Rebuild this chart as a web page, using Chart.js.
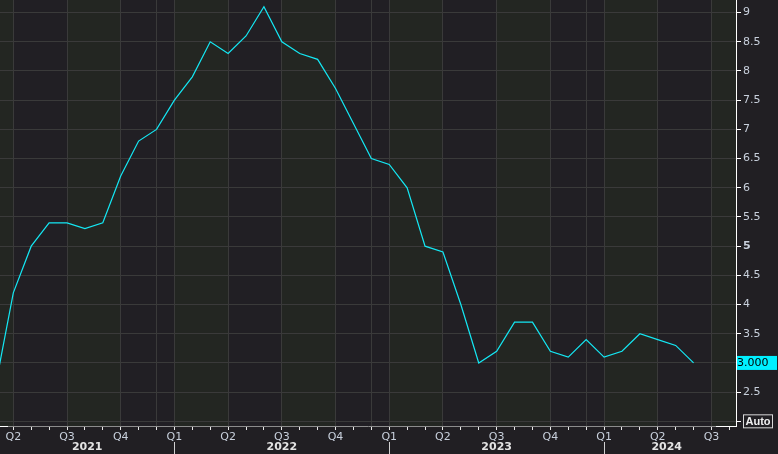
<!DOCTYPE html>
<html>
<head>
<meta charset="utf-8">
<script src="https://cdn.jsdelivr.net/npm/chart.js@4.4.1/dist/chart.umd.min.js"></script>
<style>
  html, body { margin: 0; padding: 0; background: #211f23; }
  #wrap { width: 778px; height: 454px; }
</style>
</head>
<body>
<div id="wrap"><canvas id="cpiChart" width="778" height="454"></canvas></div>
<script>
// Monthly values, Mar 2021 .. Jun 2024
const months = [
    '2021-03', '2021-04', '2021-05', '2021-06', '2021-07', '2021-08', '2021-09', '2021-10', '2021-11', '2021-12',
    '2022-01', '2022-02', '2022-03', '2022-04', '2022-05', '2022-06', '2022-07', '2022-08', '2022-09', '2022-10', '2022-11', '2022-12',
    '2023-01', '2023-02', '2023-03', '2023-04', '2023-05', '2023-06', '2023-07', '2023-08', '2023-09', '2023-10', '2023-11', '2023-12',
    '2024-01', '2024-02', '2024-03', '2024-04', '2024-05', '2024-06'
];
const values = [
    2.6, 4.2, 5.0, 5.4, 5.4, 5.3, 5.4, 6.2, 6.8, 7.0,
    7.5, 7.9, 8.5, 8.3, 8.6, 9.1, 8.5, 8.3, 8.2, 7.7, 7.1, 6.5,
    6.4, 6.0, 5.0, 4.9, 4.0, 3.0, 3.2, 3.7, 3.7, 3.2, 3.1, 3.4,
    3.1, 3.2, 3.5, 3.4, 3.3, 3.0
];
const yTicks = [2, 2.5, 3, 3.5, 4, 4.5, 5, 5.5, 6, 6.5, 7, 7.5, 8, 8.5, 9];
const years = ['2021', '2022', '2023', '2024'];

const FONT = 'DejaVu Sans';
const startYear = 2021, startMonth = 2; // March (0 = Jan)

// month of year for an index into the month axis
function moy(i) { return ((startMonth + i) % 12 + 12) % 12; }

const points = months.map((m, i) => ({ x: i, y: values[i] }));

const chartPlugin = {
    id: 'terminalLook',
    beforeDraw(chart) {
        const { ctx, chartArea: a, scales: { x } } = chart;
        ctx.save();
        ctx.fillStyle = '#211f23';
        ctx.fillRect(0, 0, chart.width, chart.height);
        // alternating quarter columns
        for (let i = -3; i < 45; i++) {
            if (moy(i) % 3 !== 0) continue;
            const x0 = Math.max(a.left, x.getPixelForValue(i));
            const x1 = Math.min(a.right, x.getPixelForValue(i + 3));
            if (x1 <= x0) continue;
            ctx.fillStyle = (moy(i) / 3) % 2 === 0 ? '#232622' : '#211f24';
            ctx.fillRect(x0, a.top, x1 - x0, a.bottom - a.top);
        }
        ctx.restore();
    },
    afterDraw(chart) {
        const { ctx, chartArea: a, scales: { x, y } } = chart;
        ctx.save();

        // axis lines
        ctx.strokeStyle = '#ffffff';
        ctx.lineWidth = 1;
        ctx.beginPath();
        ctx.moveTo(a.right + 0.5, a.top);
        ctx.lineTo(a.right + 0.5, a.bottom + 1);
        ctx.moveTo(a.left, a.bottom + 0.5);
        ctx.lineTo(a.left + 8, a.bottom + 0.5);
        ctx.moveTo(a.right - 20, a.bottom + 0.5);
        ctx.lineTo(a.right, a.bottom + 0.5);
        ctx.stroke();

        // year labels and separators
        ctx.font = 'bold 11px ' + FONT;
        ctx.fillStyle = '#e4e4e4';
        ctx.textAlign = 'center';
        ctx.textBaseline = 'middle';
        const lastTick = months.length - 1 + 3;
        years.forEach((yr) => {
            const jan = (Number(yr) - startYear) * 12 - startMonth;
            const s = Math.max(jan, x.min);
            const e = Math.min(jan + 12, lastTick - 1);
            const cx = x.getPixelForValue((s + e) / 2);
            ctx.fillText(yr, cx, 447);
            if (jan > x.min) {
                const px = Math.round(x.getPixelForValue(jan)) + 0.5;
                ctx.strokeStyle = '#d0d0d0';
                ctx.beginPath();
                ctx.moveTo(px, 442);
                ctx.lineTo(px, chart.height);
                ctx.stroke();
            }
        });

        // last value tag
        const last = values[values.length - 1];
        const ly = y.getPixelForValue(last);
        ctx.fillStyle = '#00f0ff';
        ctx.fillRect(a.right + 1, ly - 7, 40, 14);
        ctx.fillStyle = '#000000';
        ctx.font = '11px ' + FONT;
        ctx.textAlign = 'left';
        ctx.fillText(last.toFixed(3), a.right + 1, ly + 0.5);

        // Auto box
        const ay = y.getPixelForValue(2);
        ctx.fillStyle = '#211f23';
        ctx.fillRect(a.right + 7, ay - 7, 30, 14);
        ctx.strokeStyle = '#d8d8d8';
        ctx.strokeRect(a.right + 7.5, ay - 6.5, 29, 13);
        ctx.fillStyle = '#f0f0f0';
        ctx.font = 'bold 11px "Liberation Sans"';
        ctx.fillText('Auto', a.right + 9.5, ay + 0.5);

        ctx.restore();
    }
};

const ctx = document.getElementById('cpiChart').getContext('2d');
new Chart(ctx, {
    type: 'line',
    data: {
        datasets: [{
            data: points,
            borderColor: '#14e8f4',
            borderWidth: 1.2,
            pointRadius: 0,
            tension: 0,
            fill: false
        }]
    },
    options: {
        responsive: false,
        animation: false,
        layout: { padding: 0 },
        plugins: {
            legend: { display: false },
            tooltip: { enabled: false }
        },
        scales: {
            x: {
                type: 'linear',
                min: 0.257,
                max: 41.37,
                afterFit: (s) => { s.height = 28; s.paddingLeft = 0; s.paddingRight = 0; },
                afterBuildTicks: (s) => {
                    const t = [];
                    for (let i = 1; i <= 41; i++) t.push({ value: i });
                    s.ticks = t;
                },
                border: { color: '#8c8c8c' },
                grid: {
                    color: (c) => {
                        const m = moy(c.tick.value);
                        return (m % 3 === 0 || m === 11) ? '#3a3a3a' : 'rgba(0,0,0,0)';
                    },
                    tickColor: '#e8e8e8',
                    tickLength: 4,
                    lineWidth: 1
                },
                ticks: {
                    autoSkip: false,
                    maxRotation: 0,
                    padding: 1,
                    color: '#c8d0dc',
                    font: { family: FONT, size: 11 },
                    callback: (v) => {
                        const m = moy(v);
                        return m % 3 === 0 ? 'Q' + (m / 3 + 1) : '';
                    }
                }
            },
            y: {
                position: 'right',
                min: 1.92,
                max: 9.216,
                afterFit: (s) => { s.width = 42; s.paddingTop = 0; s.paddingBottom = 0; },
                afterBuildTicks: (s) => { s.ticks = yTicks.map(v => ({ value: v })); },
                border: { color: '#ffffff' },
                grid: {
                    color: '#3a3a3a',
                    tickColor: '#ffffff',
                    tickLength: 5,
                    lineWidth: 1
                },
                ticks: {
                    padding: 2,
                    color: '#c8d0dc',
                    font: (c) => ({ family: FONT, size: 11, weight: c.tick && c.tick.value === 5 ? 'bold' : 'normal' }),
                    callback: (v) => v === 2 ? '' : String(v)
                }
            }
        }
    },
    plugins: [chartPlugin]
});
</script>
</body>
</html>
